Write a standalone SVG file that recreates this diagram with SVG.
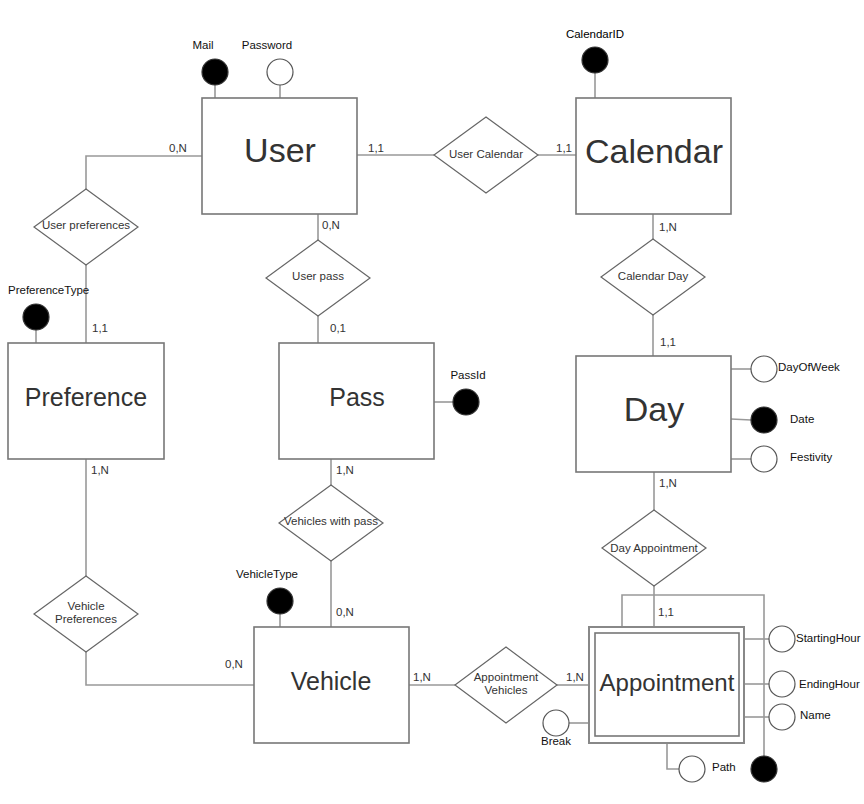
<svg xmlns="http://www.w3.org/2000/svg" width="864" height="804" viewBox="0 0 864 804">
<style>
.ent{fill:#fff;stroke:#777;stroke-width:1.6}
.rel{fill:#fff;stroke:#666;stroke-width:1.2}
.ln{fill:none;stroke:#999;stroke-width:1.6}
.att{fill:#fff;stroke:#555;stroke-width:1.2}
.key{fill:#000;stroke:#333;stroke-width:1.2}
text{font-family:"Liberation Sans",Arial,sans-serif;fill:#333;dominant-baseline:central}
.big{font-size:34px;text-anchor:middle}
.mid{font-size:25px;text-anchor:middle}
.rl{font-size:11.5px;text-anchor:middle}
.cd{font-size:11.5px}
.al{font-size:11.5px;fill:#111}
.c{text-anchor:middle}
</style>
<rect width="864" height="804" fill="#fff"/>
<g id="connectors">
<polyline class="ln" points="202,156 86,156 86,189"/>
<line class="ln" x1="86" y1="265" x2="86" y2="343"/>
<line class="ln" x1="357" y1="155" x2="434" y2="155"/>
<line class="ln" x1="538" y1="155" x2="576" y2="155"/>
<line class="ln" x1="318" y1="214" x2="318" y2="240"/>
<line class="ln" x1="318" y1="316" x2="318" y2="343"/>
<line class="ln" x1="653" y1="214" x2="653" y2="239"/>
<line class="ln" x1="653" y1="315" x2="653" y2="356"/>
<line class="ln" x1="86" y1="459" x2="86" y2="576"/>
<polyline class="ln" points="86,652 86,685 254,685"/>
<line class="ln" x1="331" y1="459" x2="331" y2="485"/>
<line class="ln" x1="331" y1="561" x2="331" y2="627"/>
<line class="ln" x1="654" y1="472" x2="654" y2="510"/>
<line class="ln" x1="654" y1="586" x2="654" y2="627"/>
<line class="ln" x1="409" y1="685" x2="455" y2="685"/>
<line class="ln" x1="557" y1="685" x2="589" y2="685"/>
</g>
<g id="attr-lines">
<line class="ln" x1="215" y1="85" x2="215" y2="98"/>
<line class="ln" x1="280" y1="85" x2="280" y2="98"/>
<line class="ln" x1="595" y1="73" x2="595" y2="98"/>
<line class="ln" x1="36" y1="330" x2="36" y2="343"/>
<line class="ln" x1="434" y1="402" x2="453" y2="402"/>
<line class="ln" x1="280" y1="614" x2="280" y2="627"/>
<line class="ln" x1="731" y1="369" x2="751" y2="369"/>
<line class="ln" x1="731" y1="419" x2="751" y2="420"/>
<line class="ln" x1="731" y1="459" x2="751" y2="459"/>
<line class="ln" x1="744" y1="639" x2="769" y2="639"/>
<line class="ln" x1="744" y1="684" x2="769" y2="684"/>
<line class="ln" x1="744" y1="717" x2="769" y2="717"/>
<line class="ln" x1="569" y1="723" x2="589" y2="723"/>
<polyline class="ln" points="667,743 667,769 679,769"/>
<polyline class="ln" points="622,627 622,595 764,595 764,756"/>
</g>
<g id="user">
<rect class="ent" x="202" y="98" width="155" height="116"/>
<text class="big" x="280" y="150">User</text>
<circle class="key" cx="215" cy="72" r="13"/>
<circle class="att" cx="280" cy="72" r="13"/>
<text class="al c" x="203" y="45">Mail</text>
<text class="al c" x="267" y="45">Password</text>
</g>
<g id="calendar">
<rect class="ent" x="576" y="98" width="155" height="116"/>
<text class="big" x="654" y="151">Calendar</text>
<circle class="key" cx="595" cy="60" r="13"/>
<text class="al c" x="595" y="34" style="fill:#000">CalendarID</text>
</g>
<g id="preference">
<rect class="ent" x="8" y="343" width="156" height="116"/>
<text class="mid" x="86" y="397">Preference</text>
<circle class="key" cx="36" cy="317" r="13"/>
<text class="al" x="8" y="290">PreferenceType</text>
</g>
<g id="pass">
<rect class="ent" x="279" y="343" width="155" height="116"/>
<text class="mid" x="357" y="397">Pass</text>
<circle class="key" cx="466" cy="402" r="13"/>
<text class="al c" x="468" y="375">PassId</text>
</g>
<g id="day">
<rect class="ent" x="576" y="356" width="155" height="116"/>
<text class="big" x="654" y="409">Day</text>
<circle class="att" cx="764" cy="369" r="13"/>
<circle class="key" cx="764" cy="420" r="13"/>
<circle class="att" cx="764" cy="459" r="13"/>
<text class="al" x="778" y="367">DayOfWeek</text>
<text class="al" x="790" y="419">Date</text>
<text class="al" x="790" y="457">Festivity</text>
</g>
<g id="vehicle">
<rect class="ent" x="254" y="627" width="155" height="116"/>
<text class="mid" x="331" y="681">Vehicle</text>
<circle class="key" cx="280" cy="601" r="13"/>
<text class="al c" x="267" y="574">VehicleType</text>
</g>
<g id="appointment">
<rect class="ent" x="589" y="627" width="155" height="116" style="stroke:#888;stroke-width:2"/>
<rect class="ent" x="595" y="633" width="144" height="103"/>
<text class="mid" x="667" y="682" style="font-size:24px">Appointment</text>
<circle class="att" cx="782" cy="639" r="13"/>
<circle class="att" cx="782" cy="684" r="13"/>
<circle class="att" cx="782" cy="717" r="13"/>
<circle class="att" cx="556" cy="723" r="13"/>
<circle class="att" cx="692" cy="769" r="13"/>
<circle class="key" cx="764" cy="769" r="13"/>
<text class="al" x="796" y="638">StartingHour</text>
<text class="al" x="799" y="684">EndingHour</text>
<text class="al" x="800" y="715">Name</text>
<text class="al c" x="556" y="741">Break</text>
<text class="al" x="712" y="767">Path</text>
</g>
<g id="rel-user-preferences">
<polygon class="rel" points="86,189 138,227 86,265 34,227"/>
<text class="rl" x="86" y="225">User preferences</text>
</g>
<g id="rel-user-pass">
<polygon class="rel" points="318,240 370,278 318,316 266,278"/>
<text class="rl" x="318" y="276">User pass</text>
</g>
<g id="rel-user-calendar">
<polygon class="rel" points="486,117 538,155 486,193 434,155"/>
<text class="rl" x="486" y="154">User Calendar</text>
</g>
<g id="rel-calendar-day">
<polygon class="rel" points="653,239 705,277 653,315 601,277"/>
<text class="rl" x="653" y="276">Calendar Day</text>
</g>
<g id="rel-vehicles-with-pass">
<polygon class="rel" points="331,485 383,523 331,561 279,523"/>
<text class="rl" x="331" y="521">Vehicles with pass</text>
</g>
<g id="rel-vehicle-preferences">
<polygon class="rel" points="86,576 138,614 86,652 34,614"/>
<text class="rl" x="86" y="606">Vehicle</text>
<text class="rl" x="86" y="619">Preferences</text>
</g>
<g id="rel-day-appointment">
<polygon class="rel" points="654,510 706,548 654,586 602,548"/>
<text class="rl" x="654" y="548">Day Appointment</text>
</g>
<g id="rel-appointment-vehicles">
<polygon class="rel" points="506,647 557,685 506,723 455,685"/>
<text class="rl" x="506" y="677">Appointment</text>
<text class="rl" x="506" y="690">Vehicles</text>
</g>
<g id="cardinalities">
<text class="cd" x="169" y="148">0,N</text>
<text class="cd" x="368" y="148">1,1</text>
<text class="cd" x="556" y="148">1,1</text>
<text class="cd" x="322" y="225">0,N</text>
<text class="cd" x="659" y="227">1,N</text>
<text class="cd" x="92" y="328">1,1</text>
<text class="cd" x="330" y="328">0,1</text>
<text class="cd" x="660" y="342">1,1</text>
<text class="cd" x="91" y="470">1,N</text>
<text class="cd" x="336" y="470">1,N</text>
<text class="cd" x="659" y="483">1,N</text>
<text class="cd" x="336" y="612">0,N</text>
<text class="cd" x="225" y="664">0,N</text>
<text class="cd" x="658" y="612">1,1</text>
<text class="cd" x="413" y="677">1,N</text>
<text class="cd" x="566" y="677">1,N</text>
</g>
</svg>
